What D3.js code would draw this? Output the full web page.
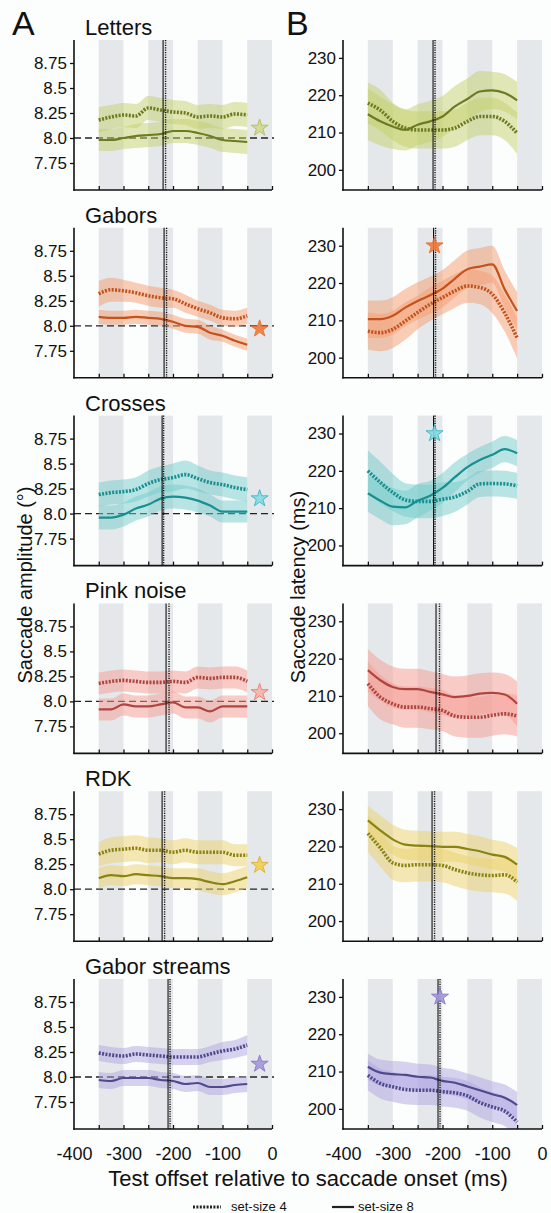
<!DOCTYPE html>
<html><head><meta charset="utf-8">
<script src="https://cdn.jsdelivr.net/npm/d3@7"></script>
<style>
body{margin:0;background:#fff;}
svg{display:block;}
text{font-family:"Liberation Sans",Arial,Helvetica,sans-serif;fill:#111;}
</style>
</head><body>
<svg id="c" width="551" height="1213"></svg>
<script>
// ---------------- DATA ----------------
const conditions = ["Letters","Gabors","Crosses","Pink noise","RDK","Gabor streams"];
const offsets = [-350,-325,-300,-275,-250,-225,-200,-175,-150,-125,-100,-75,-50];
const xTickValues = [-350,-300,-250,-200,-150,-100,-50,0];
const xTickLabels = [-400,-300,-200,-100,0];
const ampTicks = [7.75,8.0,8.25,8.5,8.75];
const ampTickLabels = ["7.75","8.0","8.25","8.5","8.75"];
const latTicks = [200,210,220,230];
const grayBandStarts = [-350,-250,-150,-50];

// saccade amplitude, set-size 4 (dotted)
const amp4 = [
  [8.18,8.21,8.23,8.22,8.30,8.28,8.26,8.25,8.21,8.22,8.21,8.24,8.23],
  [8.32,8.36,8.35,8.33,8.30,8.28,8.27,8.22,8.17,8.13,8.08,8.07,8.10],
  [8.19,8.21,8.22,8.24,8.30,8.34,8.36,8.39,8.35,8.31,8.29,8.26,8.24],
  [8.18,8.20,8.21,8.20,8.19,8.19,8.20,8.19,8.24,8.23,8.24,8.24,8.20],
  [8.35,8.39,8.40,8.41,8.39,8.39,8.37,8.39,8.37,8.37,8.37,8.34,8.34],
  [8.24,8.22,8.21,8.23,8.22,8.21,8.20,8.20,8.20,8.23,8.26,8.28,8.32]
];
const amp4Err = [
  [0.13,0.12,0.12,0.12,0.12,0.12,0.12,0.12,0.12,0.12,0.12,0.12,0.12],
  [0.13,0.12,0.11,0.10,0.10,0.10,0.09,0.09,0.08,0.08,0.08,0.08,0.08],
  [0.12,0.12,0.12,0.12,0.13,0.13,0.14,0.14,0.13,0.12,0.12,0.12,0.12],
  [0.11,0.11,0.11,0.11,0.11,0.11,0.11,0.11,0.11,0.11,0.11,0.11,0.11],
  [0.12,0.13,0.13,0.13,0.13,0.12,0.12,0.12,0.12,0.12,0.12,0.11,0.11],
  [0.08,0.08,0.08,0.08,0.08,0.08,0.08,0.08,0.08,0.08,0.09,0.09,0.10]
];
// saccade amplitude, set-size 8 (solid)
const amp8 = [
  [7.98,7.98,8.00,8.02,8.03,8.04,8.07,8.07,8.05,8.02,7.98,7.97,7.96],
  [8.09,8.08,8.08,8.09,8.08,8.07,8.04,8.00,7.99,7.93,7.90,7.85,7.81],
  [7.96,7.96,7.99,8.05,8.09,8.15,8.17,8.16,8.13,8.08,8.02,8.02,8.02],
  [7.92,7.92,7.97,7.95,7.95,7.97,7.99,7.94,7.94,7.90,7.95,7.95,7.95],
  [8.11,8.14,8.13,8.15,8.14,8.13,8.11,8.11,8.10,8.07,8.05,8.08,8.12],
  [7.97,7.96,7.99,7.99,7.99,7.97,7.96,7.93,7.94,7.90,7.90,7.92,7.93]
];
const amp8Err = [
  [0.11,0.11,0.11,0.12,0.12,0.12,0.12,0.12,0.12,0.12,0.12,0.12,0.12],
  [0.07,0.07,0.07,0.07,0.07,0.07,0.07,0.07,0.07,0.07,0.06,0.06,0.06],
  [0.12,0.12,0.12,0.12,0.12,0.12,0.12,0.12,0.12,0.11,0.11,0.11,0.11],
  [0.11,0.11,0.11,0.11,0.11,0.11,0.11,0.11,0.11,0.11,0.11,0.11,0.11],
  [0.10,0.10,0.10,0.10,0.10,0.10,0.10,0.10,0.11,0.11,0.11,0.11,0.11],
  [0.08,0.08,0.08,0.08,0.08,0.08,0.08,0.08,0.08,0.08,0.08,0.08,0.08]
];
// saccade latency, set-size 4 (dotted)
const lat4 = [
  [217.9,216.0,213.0,211.2,210.7,210.7,210.7,211.2,213.0,214.3,214.3,213.0,209.8],
  [207.1,206.7,207.6,209.8,212.1,214.3,216.1,217.9,219.2,218.8,217.0,212.0,205.3],
  [220.0,216.9,214.2,212.2,211.8,211.8,212.4,213.0,214.5,216.5,216.6,216.5,216.0],
  [213.3,209.7,207.9,207.0,207.0,206.6,206.1,204.6,204.3,204.3,204.8,205.2,204.6],
  [223.5,219.6,215.6,214.9,215.1,215.1,214.9,213.8,212.9,212.4,212.2,212.4,210.4],
  [209.0,206.8,205.9,205.2,205.0,205.0,204.6,204.3,203.5,201.7,200.5,199.4,196.5]
];
const lat4Err = [
  [5.5,5.5,5.0,5.0,5.0,5.0,5.0,5.0,5.0,5.0,5.0,5.0,5.5],
  [5.0,5.0,5.0,5.0,4.5,4.5,4.5,4.5,4.5,4.5,5.0,5.0,5.5],
  [5.5,5.5,5.0,4.5,4.5,4.5,4.5,4.0,3.5,3.5,3.5,3.5,3.5],
  [6.0,6.0,5.5,5.5,5.5,5.5,5.5,5.5,5.5,5.5,5.5,5.5,5.5],
  [5.0,5.0,4.5,4.5,4.5,4.5,4.5,4.5,4.5,4.5,4.5,5.0,5.0],
  [4.0,4.0,4.0,4.0,4.0,4.0,4.0,4.0,4.0,4.0,4.0,4.0,4.0]
];
// saccade latency, set-size 8 (solid)
const lat8 = [
  [214.9,213.0,211.6,210.7,212.1,213.0,214.3,217.0,219.0,221.0,221.3,220.6,218.6],
  [210.3,210.3,211.2,213.4,215.2,216.7,218.5,221.2,223.7,224.4,225.0,218.3,212.5],
  [214.0,212.0,210.4,210.2,212.0,213.3,215.4,218.3,221.0,222.9,224.3,225.8,224.7],
  [216.9,214.2,212.4,211.8,211.8,211.1,210.4,209.7,210.0,210.6,210.8,210.4,207.9],
  [227.0,224.3,221.9,220.5,220.2,220.1,219.9,219.9,219.3,218.7,217.8,217.2,215.1],
  [211.3,209.7,209.3,209.1,208.6,208.4,207.5,207.0,206.0,205.0,203.9,203.0,201.0]
];
const lat8Err = [
  [7.0,6.5,6.0,5.5,5.5,5.5,5.5,5.5,5.5,5.5,5.0,5.0,5.0],
  [5.0,5.0,5.0,5.0,5.0,5.0,5.0,5.0,5.0,5.0,5.0,5.0,5.0],
  [5.0,5.0,5.0,4.5,4.5,4.0,4.0,4.0,3.5,3.5,3.5,3.5,3.5],
  [5.7,5.5,5.5,5.5,5.5,5.5,5.5,5.5,5.5,5.5,5.5,5.5,6.0],
  [4.0,4.0,4.0,4.0,4.0,4.0,4.0,4.0,4.0,4.0,4.0,4.0,4.5],
  [3.5,3.5,3.5,3.5,3.5,3.5,3.5,3.5,3.5,3.5,3.5,3.5,3.5]
];
// vertical reference lines (ms)
const ampOnsetSolid  = [-220,-218,-222,-214,-222,-210];
const ampOnsetDotted = [-215,-213,-219,-208,-217,-206];
const latOnsetSolid  = [-219,-218,-218,-213,-221,-209];
const latOnsetDotted = [-215,-214,-215,-206,-216,-205];
// significance stars
const ampStarX = -25;
const ampStarY = [8.10,7.97,8.15,8.09,8.24,8.13];
const latStarX = [null,-216,-216,null,null,-205];
const latStarY = [null,230,230,null,null,230];

// colours
const lineColors = ["#6c7a20","#c4521c","#18908f","#b04540","#8a8312","#4e4a8c"];
const bandColors = ["#c4cf6c","#f59c70","#74cccc","#f59a90","#ecd26a","#b0a6e2"];
const starFill   = ["#d2d98e","#f07a3a","#86dbe3","#f8b4aa","#f2cf56","#a497dc"];
const starStroke = ["#b3bc52","#e8692a","#38b4c4","#ef7a70","#ddb024","#8274c8"];

// ---------------- LAYOUT ----------------
const svg = d3.select("#c");
const pitch = 187.8, plotH = 150, firstTop = 40;
const xAmp = d3.scaleLinear().domain([-400,0]).range([74,272]);
const xLat = d3.scaleLinear().domain([-400,0]).range([343,542]);
const grayBand = "#e4e8ea";

svg.append("rect").attr("width",551).attr("height",1213).attr("fill","#fcfdfd");

function drawPanel(i, col) {
  const top = firstTop + pitch*i, bottom = top + plotH;
  const x = col === 0 ? xAmp : xLat;
  const y = col === 0
    ? d3.scaleLinear().domain([7.48,8.98]).range([bottom, top])
    : d3.scaleLinear().domain([194.6,234.8]).range([bottom, top]);
  const g = svg.append("g");
  const clipId = "clip" + i + "_" + col;
  svg.append("clipPath").attr("id", clipId).append("rect")
    .attr("x", x(-400)).attr("y", top).attr("width", x(0)-x(-400)).attr("height", plotH);

  // gray bands
  g.selectAll("rect.gb").data(grayBandStarts).join("rect")
    .attr("x", d => x(d)).attr("width", d => x(d+50)-x(d))
    .attr("y", top).attr("height", plotH).attr("fill", grayBand);

  // dashed reference 8.0
  if (col === 0) {
    g.append("line").attr("x1", x(-400)).attr("x2", x(0)+2)
      .attr("y1", y(8.0)).attr("y2", y(8.0))
      .attr("stroke","#222").attr("stroke-width",1.3).attr("stroke-dasharray","7,4");
  }

  const m4 = col===0 ? amp4[i] : lat4[i];
  const e4 = col===0 ? amp4Err[i] : lat4Err[i];
  const m8 = col===0 ? amp8[i] : lat8[i];
  const e8 = col===0 ? amp8Err[i] : lat8Err[i];
  const pts4 = offsets.map((t,k)=>({t, m:m4[k], e:e4[k]}));
  const pts8 = offsets.map((t,k)=>({t, m:m8[k], e:e8[k]}));

  const area = d3.area().curve(d3.curveMonotoneX)
    .x(d => x(d.t)).y0(d => y(d.m - d.e)).y1(d => y(d.m + d.e));
  const line = d3.line().curve(d3.curveMonotoneX).x(d => x(d.t)).y(d => y(d.m));

  const cg = g.append("g").attr("clip-path", `url(#${clipId})`);
  [pts4, pts8].forEach(p => {
    cg.append("path").attr("d", area(p)).attr("fill", bandColors[i]).attr("fill-opacity", 0.5);
  });
  cg.append("path").attr("d", line(pts8)).attr("fill","none")
    .attr("stroke", lineColors[i]).attr("stroke-width", 2.2);
  cg.append("path").attr("d", line(pts4)).attr("fill","none")
    .attr("stroke", lineColors[i]).attr("stroke-width", 3.6).attr("stroke-dasharray","2,1.4");

  // vertical onset lines
  const vs = col===0 ? ampOnsetSolid[i] : latOnsetSolid[i];
  const vd = col===0 ? ampOnsetDotted[i] : latOnsetDotted[i];
  g.append("line").attr("x1", x(vs)).attr("x2", x(vs)).attr("y1", top).attr("y2", bottom)
    .attr("stroke","#111").attr("stroke-width",1.1);
  g.append("line").attr("x1", x(vd)).attr("x2", x(vd)).attr("y1", top).attr("y2", bottom)
    .attr("stroke","#111").attr("stroke-width",1.4).attr("stroke-dasharray","1.2,1.2");

  // stars
  const star = d3.symbol().type(d3.symbolStar).size(90);
  if (col === 0) {
    g.append("path").attr("d", star()).attr("transform", `translate(${x(ampStarX)},${y(ampStarY[i])})`)
      .attr("fill", starFill[i]).attr("stroke", starStroke[i]).attr("stroke-width",1).attr("opacity",0.9);
  } else if (latStarY[i] !== null) {
    g.append("path").attr("d", star()).attr("transform", `translate(${x(latStarX[i])},${y(latStarY[i])})`)
      .attr("fill", starFill[i]).attr("stroke", starStroke[i]).attr("stroke-width",1).attr("opacity",0.9);
  }

  // y axis
  const yAxis = d3.axisLeft(y).tickSize(4).tickPadding(3);
  if (col === 0) yAxis.tickValues(ampTicks).tickFormat((d,k) => ampTickLabels[k]);
  else yAxis.tickValues(latTicks).tickFormat(d => String(d));
  const ya = g.append("g").attr("transform", `translate(${x(-400)},0)`).call(yAxis);
  ya.select(".domain").remove();
  ya.selectAll("line").attr("stroke","#111").attr("stroke-width",1.3);
  ya.selectAll("text").attr("font-size",17).attr("fill","#111")
    .style("font-family","'Liberation Sans',Arial,sans-serif");
  g.append("line").attr("x1", x(-400)).attr("x2", x(-400)).attr("y1", top).attr("y2", bottom+0.7)
    .attr("stroke","#111").attr("stroke-width",1.6);

  // x axis
  const xAxis = d3.axisBottom(x).tickValues(xTickValues).tickSize(-4).tickFormat("");
  const xa = g.append("g").attr("transform", `translate(0,${bottom})`).call(xAxis);
  xa.select(".domain").remove();
  xa.selectAll("line").attr("stroke","#111").attr("stroke-width",1.3);
  g.append("line").attr("x1", x(-400)-0.8).attr("x2", x(0)).attr("y1", bottom).attr("y2", bottom)
    .attr("stroke","#111").attr("stroke-width",1.6);

  if (i === conditions.length - 1) {
    const xl = g.append("g").attr("transform", `translate(0,${bottom})`)
      .call(d3.axisBottom(x).tickValues(xTickLabels).tickSize(0).tickPadding(18).tickFormat(d => String(d)));
    xl.select(".domain").remove();
    xl.selectAll("text").attr("font-size",18).attr("fill","#111")
      .style("font-family","'Liberation Sans',Arial,sans-serif");
  }

  // panel title
  if (col === 0) {
    svg.append("text").attr("x", 85).attr("y", top - 5).attr("font-size", 22).text(conditions[i]);
  }
}

conditions.forEach((c, i) => { drawPanel(i, 0); drawPanel(i, 1); });

// panel letters
svg.append("text").attr("x", 12).attr("y", 35).attr("font-size", 34).text("A");
svg.append("text").attr("x", 286).attr("y", 35).attr("font-size", 34).text("B");

// axis titles
svg.append("text").attr("transform","translate(32,585) rotate(-90)").attr("text-anchor","middle")
  .attr("font-size",20).text("Saccade amplitude (°)");
svg.append("text").attr("transform","translate(305,587) rotate(-90)").attr("text-anchor","middle")
  .attr("font-size",20).text("Saccade latency (ms)");
svg.append("text").attr("x", 308).attr("y", 1186).attr("text-anchor","middle")
  .attr("font-size",22).text("Test offset relative to saccade onset (ms)");

// legend
const legend = svg.append("g");
legend.append("line").attr("x1",193).attr("x2",221).attr("y1",1207).attr("y2",1207)
  .attr("stroke","#222").attr("stroke-width",3.2).attr("stroke-dasharray","2,1.4");
legend.append("text").attr("x",231).attr("y",1211).attr("font-size",13).text("set-size 4");
legend.append("line").attr("x1",332).attr("x2",354).attr("y1",1207).attr("y2",1207)
  .attr("stroke","#222").attr("stroke-width",2.2);
legend.append("text").attr("x",358).attr("y",1211).attr("font-size",13).text("set-size 8");
</script>
</body></html>
